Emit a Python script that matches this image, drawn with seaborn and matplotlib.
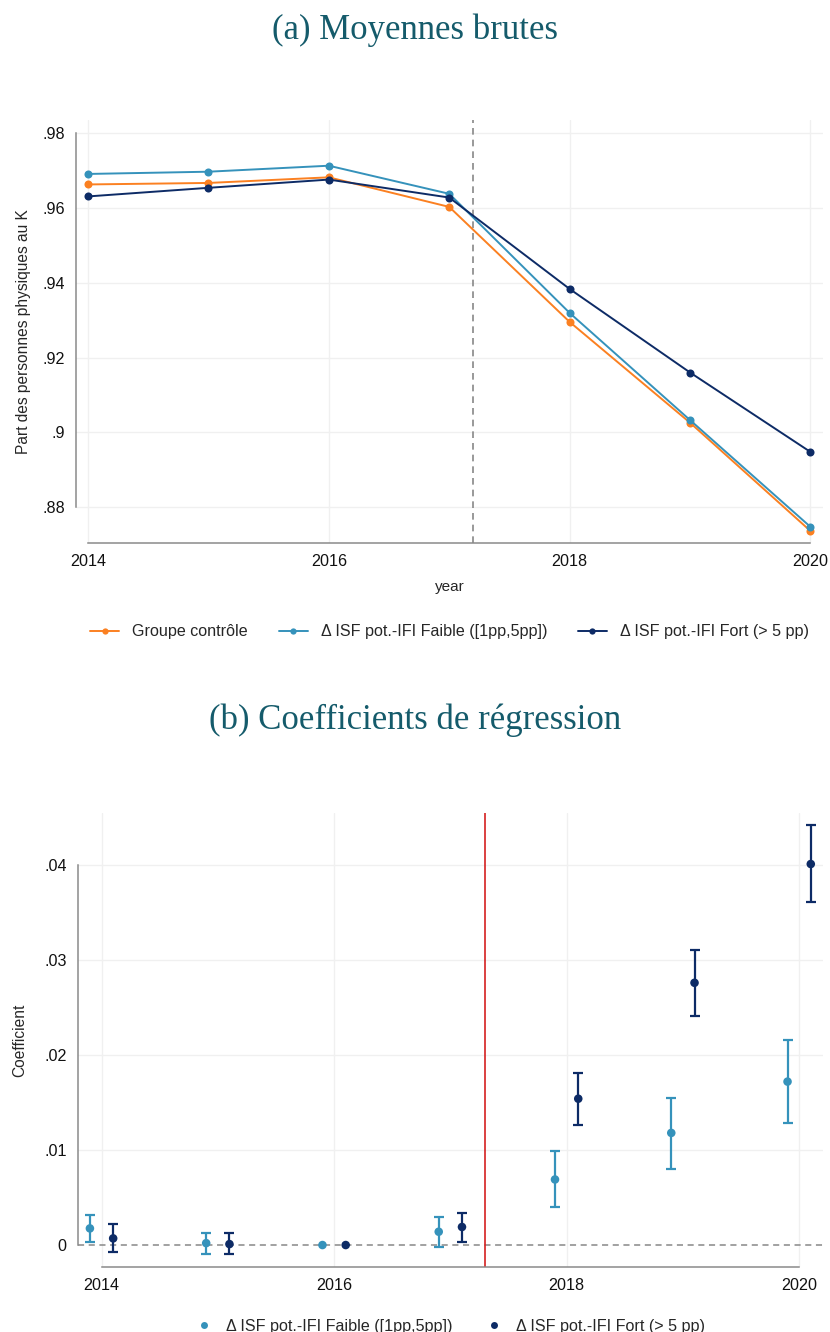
import numpy as np
import pandas as pd
import matplotlib
matplotlib.use("Agg")
import matplotlib.pyplot as plt
import seaborn as sns
from matplotlib.lines import Line2D

# ---------------- data ----------------
years = [2014, 2015, 2016, 2017, 2018, 2019, 2020]
groups = ["Groupe contrôle",
          "\u0394 ISF pot.-IFI Faible ([1pp,5pp])",
          "\u0394 ISF pot.-IFI Fort (> 5 pp)"]
mean_controle = [0.9662, 0.9666, 0.9681, 0.9602, 0.9295, 0.9026, 0.8737]
mean_faible = [0.9690, 0.9696, 0.9712, 0.9637, 0.9319, 0.9033, 0.8748]
mean_fort = [0.9630, 0.9653, 0.9675, 0.9627, 0.9383, 0.9160, 0.8948]

coef_faible = [0.00175, 0.0002, 0.0, 0.0014, 0.0069, 0.0118, 0.0172]
lo_faible = [0.0003, -0.0009, 0.0, -0.0002, 0.0040, 0.0080, 0.0128]
hi_faible = [0.0032, 0.0013, 0.0, 0.0030, 0.0099, 0.0155, 0.0216]
coef_fort = [0.0007, 0.0001, 0.0, 0.0019, 0.0154, 0.0276, 0.0401]
lo_fort = [-0.0007, -0.0009, 0.0, 0.0003, 0.0126, 0.0241, 0.0361]
hi_fort = [0.0022, 0.0013, 0.0, 0.0034, 0.0181, 0.0310, 0.0442]

yticks_top = [0.88, 0.90, 0.92, 0.94, 0.96, 0.98]
yticklabels_top = [".88", ".9", ".92", ".94", ".96", ".98"]
yticks_bot = [0, 0.01, 0.02, 0.03, 0.04]
yticklabels_bot = ["0", ".01", ".02", ".03", ".04"]
xticks = [2014, 2016, 2018, 2020]

title_a = "(a) Moyennes brutes"
title_b = "(b) Coefficients de régression"

# ---------------- style ----------------
sns.set_theme(style="white")
plt.rcParams["font.family"] = ["Liberation Sans", "DejaVu Sans"]

C_ORANGE = "#fb8021"
C_CYAN = "#3592bb"
C_NAVY = "#0d2b66"
SPINE = "#8a8a8a"
GRID = "#f0f0f0"
TITLE_C = "#155b6b"
FS = 11.6
palette = {groups[0]: C_ORANGE, groups[1]: C_CYAN, groups[2]: C_NAVY}

fig = plt.figure(figsize=(8.30, 13.32), dpi=100)
ax1 = fig.add_axes([76/830, 1 - 543/1332, (823-76)/830, (543-120)/1332])
ax2 = fig.add_axes([77.7/830, 1 - 1266.7/1332, (823-77.7)/830, (1266.7-813)/1332])

fig.text(0.5, 1 - 30/1332, title_a, ha="center", va="center",
         fontsize=25, color=TITLE_C, family=["Liberation Serif", "DejaVu Serif"])
fig.text(0.5, 1 - 720/1332, title_b, ha="center", va="center",
         fontsize=25, color=TITLE_C, family=["Liberation Serif", "DejaVu Serif"])

# ---------------- top panel ----------------
df_top = pd.DataFrame({
    "year": years * 3,
    "value": mean_controle + mean_faible + mean_fort,
    "group": [groups[0]] * 7 + [groups[1]] * 7 + [groups[2]] * 7,
})
ax1.set_xlim(2013.90, 2020.104)
ax1.set_ylim(0.8705, 0.9834)
for v in yticks_top:
    ax1.axhline(v, color=GRID, lw=1, zorder=0)
for v in xticks:
    ax1.axvline(v, color=GRID, lw=1, zorder=0)
ax1.axvline(2017.2, color="#888888", lw=1.2, ls=(0, (4, 3)), zorder=1)
sns.lineplot(data=df_top, x="year", y="value", hue="group", hue_order=groups,
             palette=palette, marker="o", markersize=5.8, markeredgewidth=0,
             linewidth=1.4, ax=ax1, legend=False, zorder=3)
ax1.set_yticks(yticks_top)
ax1.set_yticklabels(yticklabels_top)
ax1.set_xticks(xticks)
ax1.set_xticklabels([str(x) for x in xticks])
ax1.set_xlabel("year", fontsize=11, labelpad=8)
ax1.set_ylabel("Part des personnes physiques au K", fontsize=11.2, labelpad=8)

handles = [Line2D([0], [0], color=palette[g], lw=1.4, marker="o", markersize=4.5,
                  markeredgewidth=0) for g in groups]
ax1.legend(handles, groups, loc="center", bbox_to_anchor=(0.5, -0.21),
           ncol=3, frameon=False, fontsize=FS, handlelength=1.8,
           columnspacing=1.9, handletextpad=0.8)

# ---------------- bottom panel ----------------
xf = [y - 0.1 for y in years]
xs = [y + 0.1 for y in years]
df_bot = pd.DataFrame({
    "x": xf + xs,
    "coef": coef_faible + coef_fort,
    "group": [groups[1]] * 7 + [groups[2]] * 7,
})
ax2.set_xlim(2013.795, 2020.205)
ax2.set_ylim(-0.00228, 0.04547)
for v in yticks_bot[1:]:
    ax2.axhline(v, color=GRID, lw=1, zorder=0)
for v in xticks:
    ax2.axvline(v, color=GRID, lw=1, zorder=0)
ax2.axhline(0, color="#888888", lw=1.1, ls=(0, (4, 3)), zorder=1)
ax2.axvline(2017.3, color="#d42020", lw=1.2, zorder=1)

for xx, c, lo, hi, col in [(xf, coef_faible, lo_faible, hi_faible, C_CYAN),
                            (xs, coef_fort, lo_fort, hi_fort, C_NAVY)]:
    c = np.array(c); lo = np.array(lo); hi = np.array(hi)
    mask = hi > lo
    ax2.errorbar(np.array(xx)[mask], c[mask], yerr=[c[mask] - lo[mask], hi[mask] - c[mask]],
                 fmt="none", ecolor=col, elinewidth=1.6, capsize=3.3, capthick=1.6, zorder=2)
sns.scatterplot(data=df_bot, x="x", y="coef", hue="group", hue_order=groups[1:],
                palette=palette, s=38, linewidth=0, ax=ax2, legend=False, zorder=3)
ax2.set_yticks(yticks_bot)
ax2.set_yticklabels(yticklabels_bot)
ax2.set_xticks(xticks)
ax2.set_xticklabels([str(x) for x in xticks])
ax2.set_xlabel("")
ax2.set_ylabel("Coefficient", fontsize=11.2, labelpad=12)

handles2 = [Line2D([0], [0], color=palette[g], lw=0, marker="o", markersize=5,
                   markeredgewidth=0) for g in groups[1:]]
ax2.legend(handles2, groups[1:], loc="center", bbox_to_anchor=(0.5, -0.132),
           ncol=2, frameon=False, fontsize=FS, handlelength=1.0,
           columnspacing=2.05, handletextpad=0.9)

# ---------------- axes styling ----------------
for ax, yt in [(ax1, yticks_top), (ax2, yticks_bot)]:
    for s in ["top", "right"]:
        ax.spines[s].set_visible(False)
    for s in ["left", "bottom"]:
        ax.spines[s].set_color(SPINE)
        ax.spines[s].set_linewidth(1.1)
    ax.spines["left"].set_bounds(yt[0], yt[-1])
    ax.spines["bottom"].set_bounds(xticks[0], xticks[-1])
    ax.tick_params(axis="both", which="both", direction="out", length=5, width=1.1,
                   color=SPINE, labelsize=FS, labelcolor="#111111", pad=3)
    ax.set_facecolor("white")
    ax.grid(False)

fig.savefig("out.png", dpi=100, facecolor="white")
